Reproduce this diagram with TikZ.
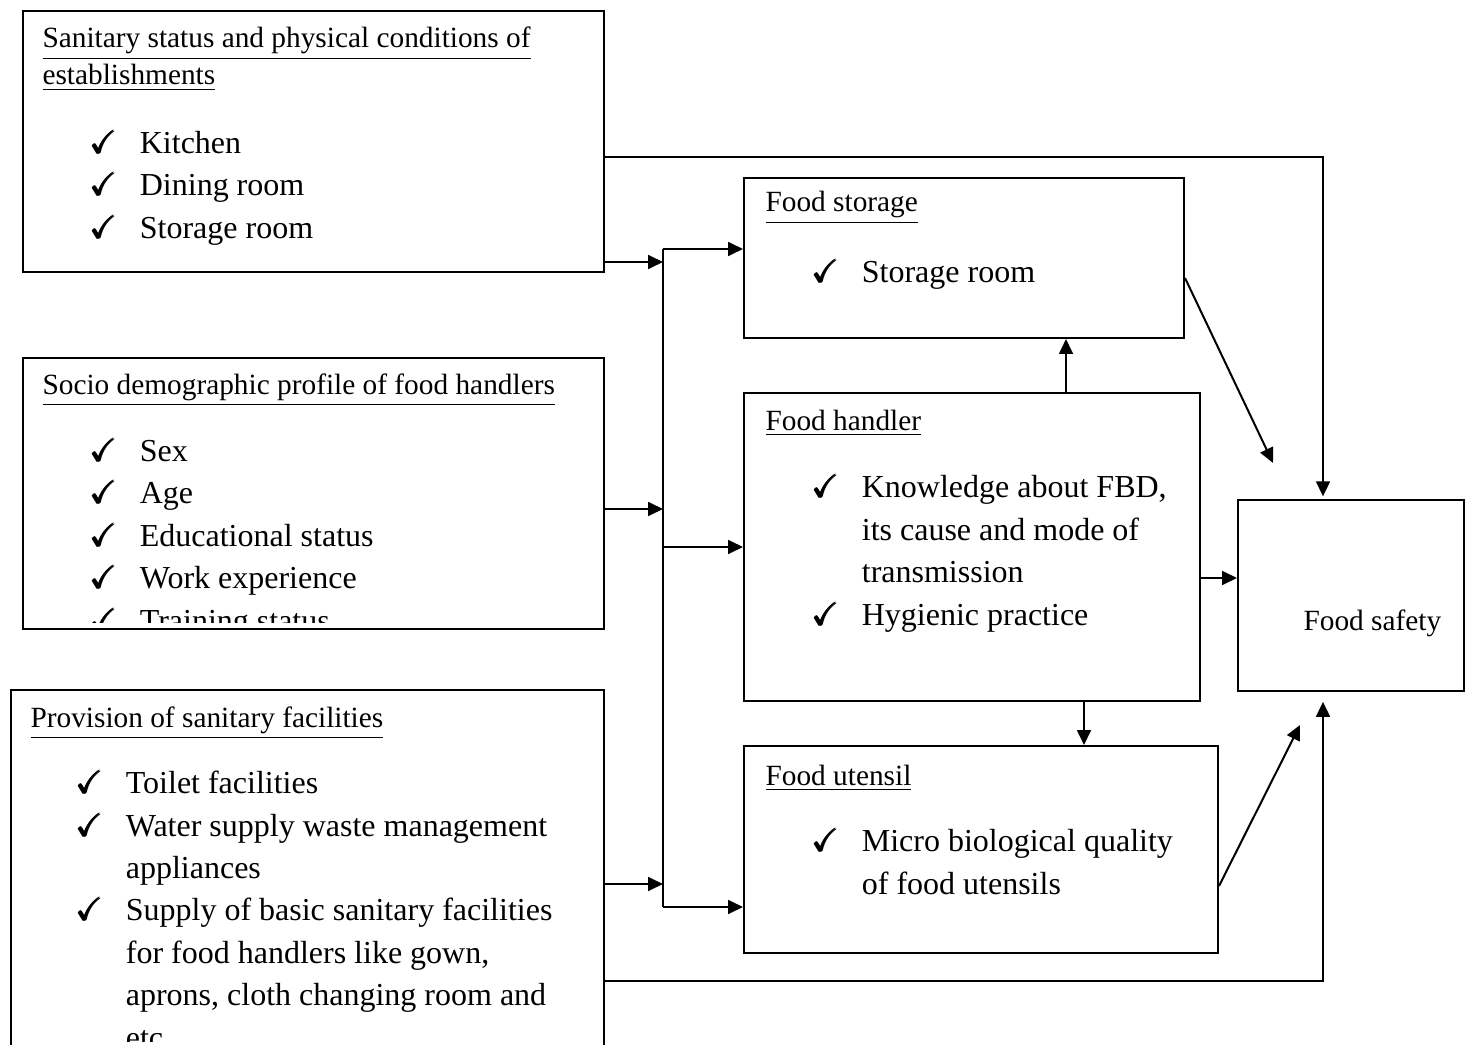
\documentclass[tikz,border=0pt]{standalone}
\usepackage{amsmath,amssymb}
\usepackage{fontspec}
\setmainfont{Liberation Serif}
\usepackage{tikz}
\usetikzlibrary{arrows.meta,positioning}

\newcommand\chk{\makebox[18.5pt][l]{$\pmb{\checkmark}$}}
\newcommand\ind{\hspace*{18.5pt}}

\begin{document}
\begin{tikzpicture}[
  x=0.375pt, y=-0.375pt,
  every node/.style={inner sep=0pt},
  box/.style 2 args={draw, line width=.75pt, anchor=north west, minimum width=#1*0.375pt, minimum height=#2*0.375pt},
  head/.style={anchor=base west, align=left, font=\fontsize{11}{13.9}\selectfont},
  items/.style={anchor=base west, align=left, font=\fontsize{12}{15.9}\selectfont},
  arrow/.style={-{Triangle[length=5.6pt,width=5.2pt]}, line width=.75pt},
  line/.style={line width=.75pt}
]
  \useasboundingbox (0,0) rectangle (1467,1045);
  \clip (0,0) rectangle (1467,1045);

  % Nodes (multi-line texts sit on their last baseline)
  \node (san) [box={581}{261}] at (22,10) {};
  \node (sanhead) [head] at (42,85) {\underline{Sanitary status and physical conditions of}\\\underline{establishments}};
  \node (sanlist) [items] at (90,238) {\chk Kitchen\\\chk Dining room\\\chk Storage room};

  \node (socio) [box={581}{271}] at (22,357) {};
  \begin{scope}
    \clip (socio.north west) rectangle ([yshift=3pt]socio.south east);
    \node (sociohead) [head] at (42,394) {\underline{Socio demographic profile of food handlers}};
    \node (sociolist) [items] at (90,631) {\chk Sex\\\chk Age\\\chk Educational status\\\chk Work experience\\\chk Training status};
  \end{scope}

  \node (prov) [box={593}{400}] at (10,689) {};
  \begin{scope}
    \clip (prov.north west) rectangle (prov.east |- 0,1041);
    \node (provhead) [head] at (30,727) {\underline{Provision of sanitary facilities}};
    \node (provlist) [items] at (76,1048) {\chk Toilet facilities\\\chk Water supply waste management\\\ind appliances\\\chk Supply of basic sanitary facilities\\\ind for food handlers like gown,\\\ind aprons, cloth changing room and\\\ind etc};
  \end{scope}

  \node (store) [box={440}{160}] at (743,177) {};
  \node (storehead) [head] at (765,212) {\underline{Food storage}};
  \node (storelist) [items] at (812,282) {\chk Storage room};

  \node (handler) [box={456}{308}] at (743,392) {};
  \node (handlerhead) [head] at (765,430) {\underline{Food handler}};
  \node (handlerlist) [items] at (812,625) {\chk Knowledge about FBD,\\\ind its cause and mode of\\\ind transmission\\\chk Hygienic practice};

  \node (utensil) [box={474}{207}] at (743,745) {};
  \node (utensilhead) [head] at (765,785) {\underline{Food utensil}};
  \node (utensillist) [items] at (812,894) {\chk Micro biological quality\\\ind of food utensils};

  \node (safety) [box={226}{191}] at (1237,499) {};
  \node (safetytext) [head] at (1303,630) {Food safety};

  % Bends
  \coordinate (bustop) at (663,249);
  \coordinate (busbot) at (663,907);
  \coordinate (inS) at (663,262);
  \coordinate (inP) at (663,509);
  \coordinate (inV) at (663,884);
  \coordinate (outH) at (663,547);
  \coordinate (topbend) at (1323,157);
  \coordinate (botbend) at (1323,981);
  \coordinate (hup) at (1066,365);
  \coordinate (hdown) at (1084,720);
  \coordinate (hright) at (1220,578);
  \coordinate (sIn1) at (1273,463);
  \coordinate (sIn2) at (1300,725);

  % Paths
  \draw [line] (bustop) -- (busbot);
  \draw [arrow] (san.east |- inS) -- (inS);
  \draw [arrow] (socio.east |- inP) -- (inP);
  \draw [arrow] (prov.east |- inV) -- (inV);
  \draw [arrow] (bustop) -- (store.west |- bustop);
  \draw [arrow] (outH) -- (handler.west |- outH);
  \draw [arrow] (busbot) -- (utensil.west |- busbot);
  \draw [arrow, shorten >=1pt] (san.east |- topbend) -- (topbend) -- (topbend |- safety.north);
  \draw [arrow, shorten >=3.7pt] (prov.east |- botbend) -- (botbend) -- (botbend |- safety.south);
  \draw [arrow] ([yshift=-7.5pt]store.east) -- (sIn1);
  \draw [arrow] (handler.north -| hup) -- (store.south -| hup);
  \draw [arrow] (handler.east |- hright) -- (safety.west |- hright);
  \draw [arrow] (handler.south -| hdown) -- (utensil.north -| hdown);
  \draw [arrow] ([yshift=-13.7pt]utensil.east) -- (sIn2);
\end{tikzpicture}
\end{document}
